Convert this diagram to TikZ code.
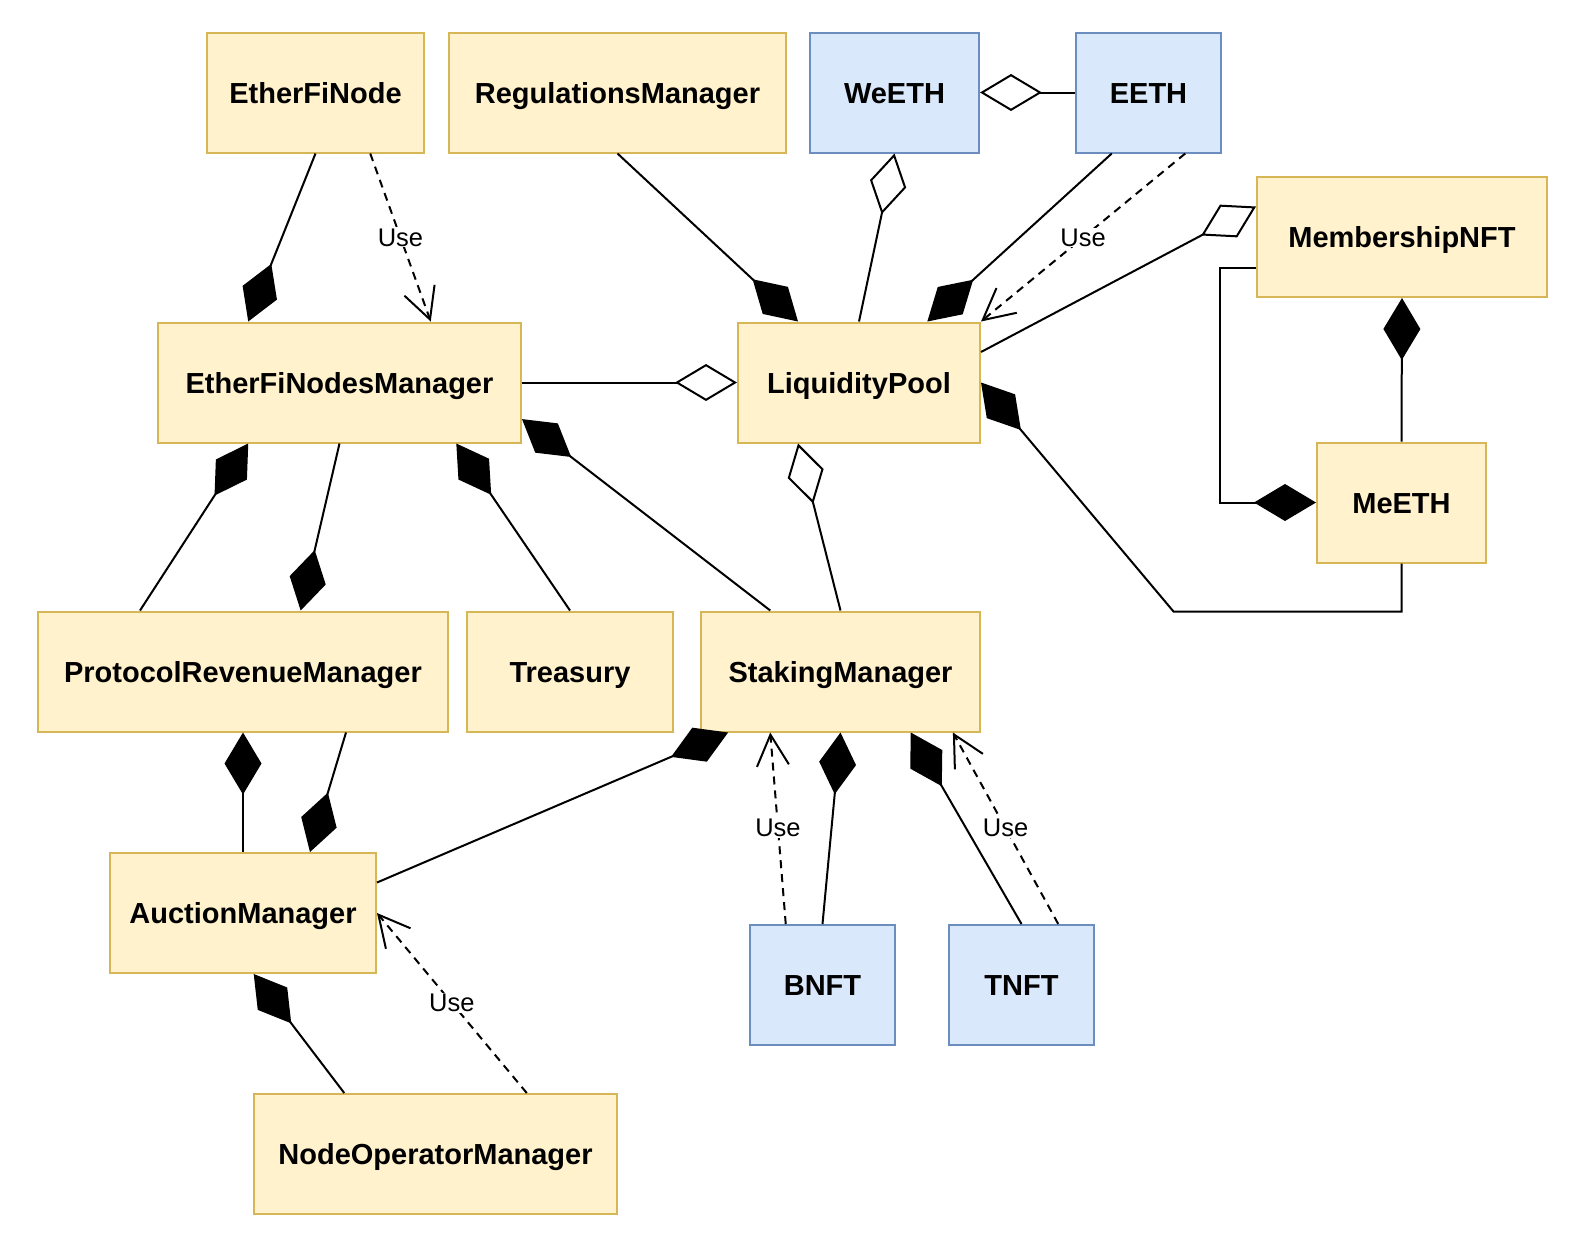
\documentclass[tikz,border=0pt]{standalone}
\usepackage{fontspec}
\setmainfont{Liberation Sans}
\usetikzlibrary{arrows.meta,calc}
\definecolor{yelFill}{HTML}{FFF2CC}
\definecolor{yelStroke}{HTML}{D6B656}
\definecolor{bluFill}{HTML}{DAE8FC}
\definecolor{bluStroke}{HTML}{6C8EBF}

\begin{document}
\begin{tikzpicture}[
  x=1pt, y=-1pt,
  cls/.style={draw=yelStroke, fill=yelFill, line width=2pt, minimum height=120pt,
              inner sep=0pt, text height=21pt, text depth=0pt,
              font=\fontsize{29}{34}\selectfont\bfseries},
  tok/.style={cls, draw=bluStroke, fill=bluFill},
  comp/.style={{Diamond[length=62pt,width=37pt]}-, line width=2pt},
  agg/.style={{Diamond[open,length=62pt,width=37pt]}-, line width=2pt},
  use/.style={-{Straight Barb[length=31pt,width=32pt]}, line width=2pt,
              dash pattern=on 8pt off 6pt},
  lbl/.style={font=\fontsize{25.5}{30}\selectfont, fill=white, inner sep=1pt},
]
\useasboundingbox (0,0) rectangle (1596,1240);

% ---------------- NODES (pixel grid) ----------------
\node[cls, minimum width=217pt] (EFN)   at (315.5,92.5) {EtherFiNode};
\node[cls, minimum width=337pt] (RM)    at (617.5,92.5) {RegulationsManager};
\node[tok, minimum width=169pt] (WeETH) at (894.5,92.5) {WeETH};
\node[tok, minimum width=145pt] (EETH)  at (1148.5,92.5) {EETH};
\node[cls, minimum width=290pt] (MNFT)  at (1402,237) {MembershipNFT};
\node[cls, minimum width=363pt] (EFNM)  at (339.5,382.5) {EtherFiNodesManager};
\node[cls, minimum width=242pt] (LP)    at (859,382.5) {LiquidityPool};
\node[cls, minimum width=169pt] (MeETH) at (1401.5,502.5) {MeETH};
\node[cls, minimum width=410pt] (PRM)   at (243,671.5) {ProtocolRevenueManager};
\node[cls, minimum width=206pt] (TRS)   at (570,671.5) {Treasury};
\node[cls, minimum width=279pt] (SM)    at (840.5,671.5) {StakingManager};
\node[cls, minimum width=266pt] (AM)    at (243,913) {AuctionManager};
\node[tok, minimum width=145pt] (BNFT)  at (822.5,985) {BNFT};
\node[tok, minimum width=145pt] (TNFT)  at (1021.5,985) {TNFT};
\node[cls, minimum width=363pt] (NOM)   at (435.5,1154) {NodeOperatorManager};

% ---------------- TOP ROW ----------------
\draw[comp] ($(EFNM.north west)!0.25!(EFNM.north east)$) -- (EFN.south);
\draw[use] ($(EFN.south west)!0.75!(EFN.south east)$) --
  ($(EFNM.north west)!0.75!(EFNM.north east)$) node[lbl, midway]{Use};
\draw[comp] ($(LP.north west)!0.25!(LP.north east)$) -- (RM.south);
\draw[agg] (WeETH.south) -- (LP.north);
\draw[agg] (WeETH.east) -- (EETH.west);
\draw[comp] ($(LP.north west)!0.78!(LP.north east)$) --
  ($(EETH.south west)!0.25!(EETH.south east)$);
\draw[use] ($(EETH.south west)!0.75!(EETH.south east)$) -- (LP.north east)
  node[lbl, midway]{Use};

% ---------------- MEMBERSHIP ----------------
\coordinate (mnftL) at ($(MNFT.north west)!0.75!(MNFT.south west)$);
\draw[agg] ($(MNFT.north west)!0.25!(MNFT.south west)$) --
  ($(LP.north east)!0.25!(LP.south east)$);
\draw[comp] (MNFT.south) -- (MeETH.north);
\draw[comp] (MeETH.west) -| ([xshift=-36pt]mnftL) -- (mnftL);
\draw[comp] (LP.east) -- ($(MeETH.south)+(-228,48)$) -| (MeETH.south);

% ---------------- MANAGERS ----------------
\draw[agg] (LP.west) -- (EFNM.east);
\draw[agg] ($(LP.south west)!0.25!(LP.south east)$) -- (SM.north);
\draw[comp] ($(EFNM.south west)!0.25!(EFNM.south east)$) --
  ($(PRM.north west)!0.25!(PRM.north east)$);
\draw[comp] ($(PRM.north west)!0.64!(PRM.north east)$) -- (EFNM.south);
\draw[comp] ($(EFNM.south west)!0.82!(EFNM.south east)$) -- (TRS.north);
\draw[comp] ($(EFNM.north east)!0.8!(EFNM.south east)$) --
  ($(SM.north west)!0.25!(SM.north east)$);
\draw[comp] (PRM.south) -- (AM.north);
\draw[comp] ($(AM.north west)!0.75!(AM.north east)$) --
  ($(PRM.south west)!0.75!(PRM.south east)$);

% ---------------- STAKING / AUCTION ----------------
\draw[comp] ($(SM.south west)!0.1!(SM.south east)$) --
  ($(AM.north east)!0.25!(AM.south east)$);
\draw[use] ($(BNFT.north west)!0.25!(BNFT.north east)$) --
  ($(SM.south west)!0.25!(SM.south east)$) node[lbl, midway]{Use};
\draw[comp] (SM.south) -- (BNFT.north);
\draw[comp] ($(SM.south west)!0.75!(SM.south east)$) -- (TNFT.north);
\draw[use] ($(TNFT.north west)!0.75!(TNFT.north east)$) --
  ($(SM.south west)!0.9!(SM.south east)$) node[lbl, midway]{Use};
\draw[comp] ($(AM.south west)!0.54!(AM.south east)$) --
  ($(NOM.north west)!0.25!(NOM.north east)$);
\draw[use] ($(NOM.north west)!0.75!(NOM.north east)$) -- (AM.east)
  node[lbl, midway]{Use};
\end{tikzpicture}
\end{document}
